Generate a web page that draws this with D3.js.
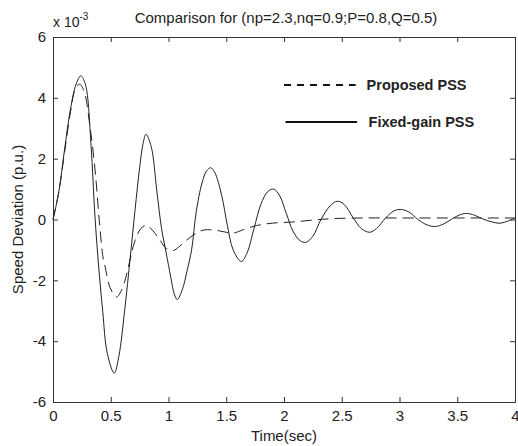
<html>
<head>
    <title>Comparison for PSS</title>
    <meta charset="UTF-8" />
    <script src="https://d3js.org/d3.v7.min.js"></script>

    <style>
        body {
            margin: 0;
            background-color: white;
        }

        text {
            font-family: Arial, "Liberation Sans", sans-serif;
            fill: #222;
        }

        .axis path,
        .axis line {
            stroke: #333;
        }

        .axis text {
            font-size: 15px;
            fill: #222;
        }
    </style>
</head>

<body>
    <svg id='chart' height='446' width='518'></svg>

    <script>

        // data
        const titleText = 'Comparison for (np=2.3,nq=0.9;P=0.8,Q=0.5)';
        const xLabel = 'Time(sec)';
        const yLabel = 'Speed Deviation (p.u.)';
        const seriesNames = ['Proposed PSS', 'Fixed-gain PSS'];

        const xTicks = [0, 0.5, 1, 1.5, 2, 2.5, 3, 3.5, 4];
        const xTickLabels = ['0', '0.5', '1', '1.5', '2', '2.5', '3', '3.5', '4'];
        const yTicks = [-6, -4, -2, 0, 2, 4, 6];
        const yTickLabels = ['-6', '-4', '-2', '0', '2', '4', '6'];

        // fixed-gain PSS (solid), units of 1e-3
        const fixedTime = [0, 0.05, 0.10, 0.15, 0.20, 0.24, 0.28, 0.33, 0.36, 0.39, 0.43, 0.47, 0.53,
            0.57, 0.62, 0.67, 0.71, 0.75, 0.78, 0.805, 0.85, 0.90, 0.94, 0.98, 1.02, 1.05, 1.076,
            1.12, 1.16, 1.20, 1.24, 1.29, 1.33, 1.365, 1.40, 1.46, 1.51, 1.56, 1.63, 1.68, 1.74,
            1.80, 1.86, 1.91, 1.96, 2.02, 2.08, 2.14, 2.19, 2.25, 2.32, 2.40, 2.46, 2.52, 2.60,
            2.67, 2.74, 2.80, 2.88, 2.95, 3.01, 3.08, 3.16, 3.24, 3.31, 3.38, 3.46, 3.52, 3.58,
            3.65, 3.72, 3.80, 3.87, 3.94, 4.00];
        const fixedValue = [0, 0.9, 2.3, 3.6, 4.45, 4.72, 4.45, 2.4, 0.3, -1.3, -3.0, -4.4, -5.05,
            -4.5, -3.0, -1.2, 0.3, 1.7, 2.5, 2.8, 2.4, 0.9, -0.3, -1.1, -1.9, -2.45, -2.63,
            -2.3, -1.7, -1.0, 0.25, 1.2, 1.6, 1.7, 1.55, 0.8, -0.2, -1.0, -1.38, -1.1, -0.3,
            0.5, 0.92, 1.0, 0.8, 0.2, -0.4, -0.7, -0.75, -0.55, 0.0, 0.45, 0.6, 0.5, 0.05,
            -0.3, -0.42, -0.3, 0.05, 0.28, 0.33, 0.25, 0.0, -0.18, -0.23, -0.15, 0.03, 0.15, 0.2,
            0.14, 0.02, -0.08, -0.12, -0.05, 0.05];

        // proposed PSS (dashed), units of 1e-3
        const proposedTime = [0, 0.05, 0.10, 0.15, 0.19, 0.23, 0.27, 0.32, 0.364, 0.40, 0.435, 0.45,
            0.494, 0.55, 0.59, 0.62, 0.65, 0.71, 0.76, 0.81, 0.86, 0.93, 0.98, 1.04, 1.09, 1.15,
            1.22, 1.30, 1.40, 1.50, 1.56, 1.65, 1.76, 1.90, 2.08, 2.25, 2.43, 2.70, 3.00, 3.50, 4.00];
        const proposedValue = [0, 0.9, 2.2, 3.5, 4.25, 4.45, 4.2, 3.06, 1.64, 0.0, -1.3, -1.53,
            -2.24, -2.55, -2.35, -2.05, -1.6, -0.7, -0.3, -0.19, -0.35, -0.7, -0.95, -1.02, -0.9, -0.7,
            -0.5, -0.35, -0.35, -0.42, -0.45, -0.33, -0.2, -0.12, -0.08, -0.02, 0.03, 0.05, 0.05, 0.05, 0.05];

        // setting up svg
        const svg = d3.select('svg#chart');
        const margins = {top: 37, right: 3, bottom: 44, left: 53};
        const width = svg.attr('width');
        const height = svg.attr('height');
        const chartWidth = width - margins.left - margins.right;
        const chartHeight = height - margins.top - margins.bottom;
        const chartArea = svg.append('g')
            .attr('transform', `translate(${margins.left}, ${margins.top})`);

        // scales
        const xScale = d3.scaleLinear().domain([0, 4]).range([0, chartWidth]);
        const yScale = d3.scaleLinear().domain([-6, 6]).range([chartHeight, 0]);

        // axes with inward ticks on all four sides
        const bottomAxis = d3.axisBottom(xScale).tickValues(xTicks)
            .tickFormat((d, i) => xTickLabels[i]).tickSizeInner(-5).tickSizeOuter(0).tickPadding(8);
        const leftAxis = d3.axisLeft(yScale).tickValues(yTicks)
            .tickFormat((d, i) => yTickLabels[i]).tickSizeInner(-5).tickSizeOuter(0).tickPadding(7);
        const topAxis = d3.axisTop(xScale).tickValues(xTicks).tickFormat('')
            .tickSizeInner(-5).tickSizeOuter(0);
        const rightAxis = d3.axisRight(yScale).tickValues(yTicks).tickFormat('')
            .tickSizeInner(-5).tickSizeOuter(0);

        chartArea.append('g').attr('class', 'axis')
            .attr('transform', `translate(0, ${chartHeight})`).call(bottomAxis);
        chartArea.append('g').attr('class', 'axis').call(leftAxis);
        chartArea.append('g').attr('class', 'axis').call(topAxis);
        chartArea.append('g').attr('class', 'axis')
            .attr('transform', `translate(${chartWidth}, 0)`).call(rightAxis);
        chartArea.selectAll('.axis text').attr('font-family', null);

        // lines
        const line = d3.line()
            .x(d => xScale(d[0]))
            .y(d => yScale(d[1]))
            .curve(d3.curveCatmullRom.alpha(0.5));

        const fixedData = fixedTime.map((t, i) => [t, fixedValue[i]]);
        const proposedData = proposedTime.map((t, i) => [t, proposedValue[i]]);

        chartArea.append('path')
            .datum(fixedData)
            .attr('d', line)
            .style('fill', 'none')
            .style('stroke', '#222')
            .style('stroke-width', '1px');

        chartArea.append('path')
            .datum(proposedData)
            .attr('d', line)
            .style('fill', 'none')
            .style('stroke', '#222')
            .style('stroke-width', '1px')
            .style('stroke-dasharray', '11,6');

        // legend
        const legendX1 = xScale(2.0);
        const legendX2 = xScale(2.62);
        const legendRows = [85, 122];
        seriesNames.forEach((name, i) => {
            chartArea.append('line')
                .attr('x1', legendX1 + i * 1.5)
                .attr('x2', legendX2 + i * 1.5)
                .attr('y1', legendRows[i] - margins.top)
                .attr('y2', legendRows[i] - margins.top)
                .style('stroke', '#111')
                .style('stroke-width', '2px')
                .style('stroke-dasharray', i == 0 ? '7,6' : null);

            chartArea.append('text')
                .attr('x', legendX2 + 11 + i * 2)
                .attr('y', legendRows[i] - margins.top)
                .attr('dy', '0.35em')
                .style('font-size', '14.5px')
                .style('font-weight', 'bold')
                .text(name);
        });

        // title, labels and exponent
        svg.append('text')
            .attr('x', margins.left + chartWidth / 2 + 2)
            .attr('y', 23)
            .attr('text-anchor', 'middle')
            .style('font-size', '15px')
            .text(titleText);

        svg.append('text')
            .attr('x', margins.left + chartWidth / 2)
            .attr('y', 441)
            .attr('text-anchor', 'middle')
            .style('font-size', '15px')
            .text(xLabel);

        svg.append('text')
            .attr('transform', `translate(23, ${margins.top + chartHeight / 2}) rotate(-90)`)
            .attr('text-anchor', 'middle')
            .style('font-size', '15px')
            .text(yLabel);

        const expo = svg.append('text')
            .attr('x', margins.left)
            .attr('y', 27)
            .style('font-size', '14px');
        expo.append('tspan').text('x 10');
        expo.append('tspan').attr('dy', -7).style('font-size', '10px').text('-3');

    </script>
</body>
</html>
